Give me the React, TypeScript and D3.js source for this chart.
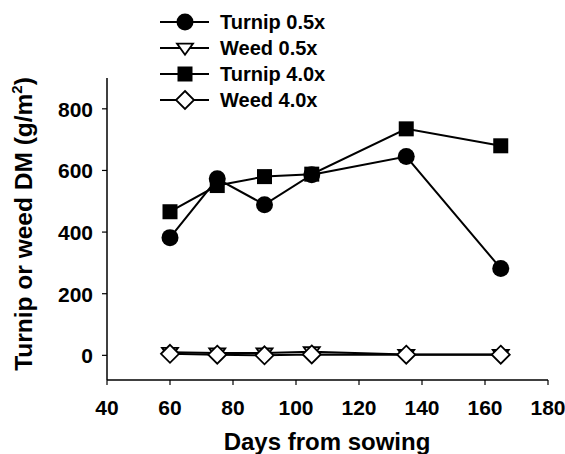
import React from "react";
import * as d3 from "d3";

const days = [60, 75, 90, 105, 135, 165];
const turnip05 = [382, 573, 489, 586, 645, 282];
const weed05 = [10, 8, 8, 12, 3, 3];
const turnip40 = [466, 551, 580, 588, 735, 680];
const weed40 = [5, 2, 0, 3, 2, 2];
const seriesNames = ["Turnip 0.5x", "Weed 0.5x", "Turnip 4.0x", "Weed 4.0x"];
const xTicks = [40, 60, 80, 100, 120, 140, 160, 180];
const yTicks = [0, 200, 400, 600, 800];

const W = 565, H = 454;
const FONT = "'Liberation Sans', Arial, sans-serif";

type Kind = "circle" | "triDown" | "square" | "diamond";

function Marker({ kind, x, y }: { kind: Kind; x: number; y: number }) {
  const sw = 1.8;
  if (kind === "circle") return <circle cx={x} cy={y} r={8.5} fill="#000" />;
  if (kind === "square") return <rect x={x - 7.5} y={y - 7.5} width={15} height={15} fill="#000" />;
  if (kind === "diamond") {
    const r = 9;
    return <path d={`M${x},${y - r}L${x + r},${y}L${x},${y + r}L${x - r},${y}Z`} fill="#fff" stroke="#000" strokeWidth={sw} />;
  }
  const r = 8;
  return <path d={`M${x - r},${y - r * 0.55}L${x + r},${y - r * 0.55}L${x},${y + r * 0.85}Z`} fill="#fff" stroke="#000" strokeWidth={sw} />;
}

export default function App() {
  const x = d3.scaleLinear().domain([40, 180]).range([107, 548]);
  const y = d3.scaleLinear().domain([-80, 900]).range([380, 78]);
  const series: { name: string; vals: number[]; kind: Kind }[] = [
    { name: seriesNames[0], vals: turnip05, kind: "circle" },
    { name: seriesNames[2], vals: turnip40, kind: "square" },
    { name: seriesNames[1], vals: weed05, kind: "triDown" },
    { name: seriesNames[3], vals: weed40, kind: "diamond" },
  ];
  const line = d3.line<[number, number]>().x((d) => x(d[0])).y((d) => y(d[1]));
  const legendOrder: Kind[] = ["circle", "triDown", "square", "diamond"];
  const legendY = [22, 48, 74, 100];

  return (
    <svg width={W} height={H} style={{ position: "absolute", left: 0, top: 0, background: "#fff" }} fontFamily={FONT}>
      <rect width={W} height={H} fill="#fff" />
      {/* axes */}
      <line x1={107} x2={107} y1={78} y2={380} stroke="#000" strokeWidth={1.5} />
      <line x1={107} x2={548} y1={380} y2={380} stroke="#000" strokeWidth={1.5} />
      {yTicks.map((t) => (
        <g key={"y" + t}>
          <line x1={102} x2={107} y1={y(t)} y2={y(t)} stroke="#000" strokeWidth={1.2} />
          <text x={93} y={y(t) + 8} textAnchor="end" fontSize={21} fontWeight="bold">{t}</text>
        </g>
      ))}
      {xTicks.map((t) => (
        <g key={"x" + t}>
          <line x1={x(t)} x2={x(t)} y1={380} y2={385} stroke="#000" strokeWidth={1.2} />
          <text x={x(t)} y={415} textAnchor="middle" fontSize={21} fontWeight="bold">{t}</text>
        </g>
      ))}
      <text x={327} y={450} textAnchor="middle" fontSize={24} fontWeight="bold">Days from sowing</text>
      <text transform="translate(32,224) rotate(-90)" textAnchor="middle" fontSize={24.5} fontWeight="bold">
        Turnip or weed DM (g/m<tspan dy={-10} fontSize={15}>2</tspan><tspan dy={10}>)</tspan>
      </text>
      {/* lines */}
      {series.map((s) => (
        <path key={"l" + s.name} d={line(days.map((d, i) => [d, s.vals[i]] as [number, number])) || ""} fill="none" stroke="#000" strokeWidth={2} />
      ))}
      {/* markers */}
      {series.map((s) => (
        <g key={"m" + s.name}>
          {days.map((d, i) => (
            <Marker key={i} kind={s.kind} x={x(d)} y={y(s.vals[i])} />
          ))}
        </g>
      ))}
      {/* legend */}
      {seriesNames.map((n, i) => (
        <g key={"lg" + n}>
          <line x1={160} x2={209} y1={legendY[i]} y2={legendY[i]} stroke="#000" strokeWidth={2} />
          <Marker kind={legendOrder[i]} x={185} y={legendY[i]} />
          <text x={220} y={legendY[i] + 7} fontSize={20} fontWeight="bold">{n}</text>
        </g>
      ))}
    </svg>
  );
}
